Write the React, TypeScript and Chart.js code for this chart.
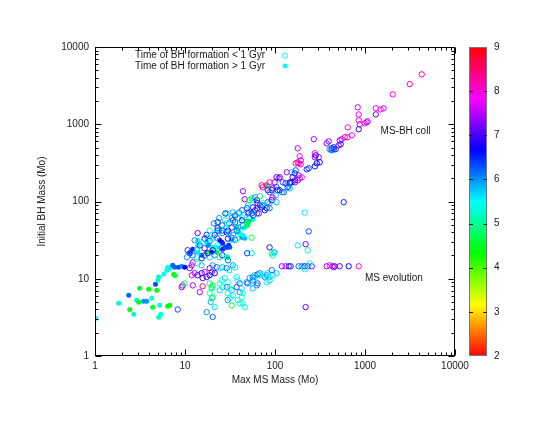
import React, { useEffect, useRef } from 'react';
import { Chart, registerables } from 'chart.js';

Chart.register(...registerables);

// [Max MS Mass, Initial BH Mass, colour value] — BH formed in < 1 Gyr (open circles)
const youngBH: number[][] = [
  [4270,4430,8.3],[3140,3300,8.2],[2030,2440,8.0],[830,1660,7.6],[851,1340,7.9],[851,1125,8.0],
  [873,1000,7.7],[851,860,6.9],[642,910,8.0],[1320,1610,7.9],[1490,1560,7.9],[1610,1610,7.6],
  [1320,1340,7.2],[990,1030,8.1],[1040,1060,7.5],[1070,1090,7.5],[712,719,7.8],[642,680,8.0],
  [595,680,8.2],[551,640,7.5],[523,619,7.4],[537,550,6.8],[449,503,6.6],[426,488,6.5],
  [449,474,6.5],[472,474,6.5],[426,460,6.3],[405,474,6.0],[375,565,7.3],[395,600,7.3],
  [510,534,7.3],[270,640,7.5],[179,488,7.5],[188,385,7.9],[193,341,7.4],[179,322,8.2],
  [170,312,8.3],[183,312,8.0],[193,303,8.2],[277,421,7.9],[277,374,7.3],[284,396,6.8],
  [306,374,7.3],[314,322,6.8],[291,312,6.7],[277,285,6.6],[225,261,6.5],[237,269,6.4],
  [135,239,7.3],[153,239,5.8],[166,231,6.5],[170,253,6.3],[183,218,7.2],[188,200,7.6],
  [198,206,7.8],[179,188,7.4],[166,177,7.2],[153,177,6.7],[146,177,6.7],[142,157,5.8],
  [125,132,6.3],[113,140,6.4],[110,200,7.3],[580,98,6.5],[214,72,5.6],[113,206,7.3],
  [104,206,7.0],[166,188,7.3],[157,206,6.9],[146,172,6.5],[131,172,7.0],[122,177,6.2],
  [99,177,7.3],[87,177,7.9],[81,162,8.2],[73,153,8.0],[71,162,8.3],[104,153,6.4],
  [94,148,6.8],[92,140,7.2],[83,140,6.5],[87,132,6.2],[146,148,5.8],[138,153,6.3],
  [119,132,6.0],[107,140,6.6],[102,120,5.9],[44,136,7.4],[46,107,7.3],[52,104,4.3],
  [55,110,4.6],[57,104,5.5],[60,113,6.0],[63,104,7.0],[64,95,6.6],[68,89,6.5],
  [71,84,6.7],[73,89,6.4],[81,82,6.5],[77,77,6.6],[83,98,6.2],[87,95,5.7],
  [92,104,6.8],[94,113,7.5],[104,98,5.8],[63,82,7.4],[57,84,7.0],[60,77,6.4],
  [49,82,6.3],[50,89,5.8],[55,70,6.5],[51,72,6.6],[43,77,6.2],[39,70,5.5],
  [34,72,5.9],[36,66,6.4],[29,70,5.6],[33,61,6.0],[34,57,6.5],[39,61,5.8],
  [36,54,6.3],[43,57,6.7],[44,49,6.0],[49,52,4.8],[28,57,5.4],[29,52,5.7],
  [26,49,6.2],[24,61,5.9],[23,54,6.5],[21,52,6.1],[23,45,6.6],[24,42,5.7],
  [26,42,6.4],[26,39,6.0],[29,40,6.8],[31,39,5.5],[33,34,6.3],[30,33,6.6],
  [34,37,5.9],[36,32,6.2],[38,33,5.3],[13.8,39,7.1],[18.8,42,5.5],[17.4,37,6.4],
  [17.8,34,5.8],[16.5,33,6.6],[18.8,31,6.2],[20.3,33,5.6],[21.4,37,6.9],[22.5,34,6.1],
  [55,34,4.6],[87,25.5,6.5],[179,27,5.6],[219,28,7.2],[237,41,6.3],[231,23.4,5.2],
  [92,21.4,5.3],[97,22,4.9],[55,21.4,5.6],[68,117,4.8],[73,95,5.4],[87,82,6.1],
  [28,70,6.4],[40,72,6.0],[43,62,5.6],[50,70,6.2],[52,61,5.9],[57,66,6.3],
  [63,70,6.0],[66,70,7.2],[38,52,5.5],[39,46,6.0],[31,52,5.8],[33,46,6.5],
  [30,42,6.7],[28,45,5.4],[38,42,6.2],[23,42,6.3],[19.8,37,5.5],[49,21.4,6.4],
  [99,22,5.8],[94,20,5.2],
  [11.3,21.4,7.0],[12.2,20.1,6.2],[10.5,19,6.0],[13.5,19,5.5],[15.3,18.4,6.5],[16.5,20.1,6.3],
  [18.8,19,5.7],[21.4,20.1,6.0],[24.3,19,4.8],[26,20.1,6.5],[29,19,5.5],[30,17.3,6.2],
  [12.2,16.3,7.4],[11.9,14.9,7.6],[11.3,13.7,7.2],[13.8,15.8,5.5],[15.3,14.9,5.8],[12.8,11.8,7.3],
  [11.9,11.1,7.7],[13.8,11.1,7.0],[15.3,11.8,6.8],[16.5,12.2,7.5],[17.4,10.5,7.2],[18.8,11.1,6.6],
  [15.7,10.2,7.0],[20.3,14.9,5.9],[22.5,14.1,6.3],[24.3,13.7,5.5],[26,14.1,5.8],[29,13.7,6.2],
  [31,12.9,5.6],[34,14.9,6.0],[36,14.1,5.3],[18.8,13.7,7.4],[19.8,12.2,7.1],[21.4,11.8,6.8],
  [9.4,8.2,7.6],[9.2,7.8,7.3],[9.9,8.7,4.6],[12.2,8.2,7.5],[15.7,8.0,8.3],[14.6,6.7,7.4],
  [18.8,8.7,4.8],[19.8,7.8,5.2],[20.3,8.2,4.6],[19.8,7.5,4.7],[18.8,6.5,5.3],[19.8,5.6,4.6],
  [20.3,5.75,4.9],[19.3,5.0,5.8],[24.3,8.7,5.5],[25.6,9.5,5.2],[27.6,10.2,5.6],[26.2,7.8,5.4],
  [24.3,7.1,5.7],[29.8,9.0,5.4],[29.1,7.8,6.0],[31.4,7.5,5.5],[33,7.1,5.8],[29.8,6.5,5.3],
  [33.9,6.1,5.6],[31.4,5.6,5.4],[29.8,5.3,5.9],[37.5,10.5,5.6],[38.5,9.5,5.4],[40.5,8.7,6.2],
  [37.5,7.8,6.3],[42.6,7.5,5.7],[40.5,6.7,6.0],[43.7,6.5,5.5],[42.6,5.75,5.2],[38.5,5.3,5.4],
  [40.5,4.8,5.3],[48.5,9.0,6.0],[49.7,8.7,6.3],[52.3,10.2,6.0],[56.5,10.5,6.2],[59.5,11.1,5.8],
  [64,11.4,6.3],[67.6,11.8,6.1],[73,11.4,5.5],[81,11.1,6.0],[83,11.8,5.4],[87,10.5,5.6],
  [94,11.1,5.3],[104,11.8,5.7],[55,8.7,5.6],[63,8.2,6.0],[64,8.7,6.3],[56.5,7.5,5.8],
  [81,9.0,5.4],[87,9.5,5.8],[33,4.5,4.6],[43.7,4.8,5.3],[46,4.3,5.4],[17.4,3.7,6.0],
  [21.4,4.3,5.6],[20.3,3.2,6.2],[8.3,4.0,6.3],[77,10.5,6.0],[67.6,11.1,5.4],[59.5,10.5,5.7],
  [56.5,9.5,6.1],[92,12.9,6.2],[83,10.5,5.5],
  [119,14.5,7.4],[131,14.5,7.6],[142,14.5,7.0],[149,14.5,6.5],[183,14.5,6.2],[198,14.5,6.0],
  [214,14.5,6.5],[231,14.5,6.3],[256,14.5,7.3],[214,13.3,5.5],[243,15.8,5.3],[375,14.5,7.3],
  [405,14.9,7.8],[437,14.5,7.5],[449,14.1,7.6],[460,14.5,7.2],[523,14.5,7.0],[659,14.5,6.7],
  [851,14.5,7.9],[219,4.3,7.2],
  [14.6,27,6.5],[13.5,23.4,5.8],[16.5,24.8,7.0],[12.8,31.5,6.0],[10.7,23.4,6.4],[15.7,28.8,5.6],
  [20.3,23.4,6.7],[23,27,5.5],[25.6,24.8,6.2],[17.8,21.4,6.9],
];

// [Max MS Mass, Initial BH Mass, colour value] — BH formed in > 1 Gyr (filled circles)
const oldBH: number[][] = [
  [1.02,3.08,5.4],[1.83,4.81,5.3],[2.37,6.11,6.2],[2.43,4.0,4.4],[2.69,3.46,5.3],[2.90,5.26,5.3],
  [3.14,7.53,4.5],[3.06,4.96,4.5],[3.47,5.11,6.0],[3.75,5.11,6.0],[3.95,7.3,4.4],[4.38,4.27,4.5],
  [4.27,5.59,5.4],[4.7,8.5,6.3],[4.85,7.08,4.4],[4.98,9.55,5.3],[5.1,10.5,5.3],[5.23,4.53,5.4],
  [5.1,3.17,5.2],[5.37,3.46,5.3],[5.8,11.4,5.5],[6.26,12.9,5.4],[6.42,4.4,4.4],[6.76,4.53,4.4],
  [6.42,14.1,5.5],[6.76,13.7,5.2],[7.49,11.4,4.4],[7.7,11.0,4.5],[7.68,14.1,6.2],[8.5,14.1,6.3],
  [9.2,14.5,6.0],[9.94,14.1,6.7],[7.3,14.9,6.2],[11.3,21.4,6.3],[12.2,24.1,6.5],[13.8,22,5.3],
  [15.3,20.1,6.2],[17.4,29.6,5.4],[18.3,27.1,6.0],[20.3,25.5,5.3],[22.5,22,4.6],[26.2,24.1,6.6],
  [29.1,25.5,6.7],[30.6,27.1,6.5],[33,31.5,5.6],[37.5,46.4,4.6],[38.5,39.9,5.3],[44.9,45,5.5],
  [51,55.4,4.5],[56.5,58.8,5.3],[46,46.4,5.4],[49.7,49.2,4.6],[24.3,31.5,6.8],[25.6,29.6,6.7],
  [26.2,28.8,6.5],[31.4,25.5,6.3],[40.5,38.7,5.5],[42.6,34.4,6.1],[46,33.4,5.8],[43.7,36.5,5.3],
  [48.5,55.4,4.6],[80,160,4.3],[13.8,31.5,5.4],[13.8,27,5.4],[17.4,22,4.5],[19.8,22,6.5],
  [22.5,25.5,5.5],[28,25.5,6.4],[29.8,19,4.6],
];

const xTickValues = [1, 10, 100, 1000, 10000];
const yTickValues = [1, 10, 100, 1000, 10000];
const colorbarTicks = [2, 3, 4, 5, 6, 7, 8, 9];
const colorMin = 2;
const colorMax = 9;
const legendLabels = ['Time of BH formation < 1 Gyr', 'Time of BH formation > 1 Gyr'];
const legendColorValue = 5.5;
const xTitle = 'Max MS Mass (Mo)';
const yTitle = 'Initial BH Mass (Mo)';
const regionLabels: { text: string; x: number; y: number }[] = [
  { text: 'MS-BH coll', x: 1490, y: 810 },
  { text: 'MS evolution', x: 1000, y: 10.1 },
];

const FONT = '"Liberation Sans", Arial, Helvetica, sans-serif';
const TEXT = '#1a1a1a';

const zHue = (z: number) => ((z - colorMin) / (colorMax - colorMin)) * 360;
const zColor = (z: number) => `hsl(${zHue(z).toFixed(1)}, 100%, 50%)`;

const decorPlugin = {
  id: 'decor',
  afterDraw(chart: any) {
    const { ctx, chartArea: a, scales } = chart;
    const xs = scales.x;
    const ys = scales.y;
    ctx.save();
    // plot border
    ctx.strokeStyle = '#000';
    ctx.lineWidth = 1;
    const L = Math.round(a.left) + 0.5;
    const R = Math.round(a.right) - 0.5;
    const T = Math.round(a.top) + 0.5;
    const B = Math.round(a.bottom) - 0.5;
    ctx.strokeRect(L, T, R - L, B - T);
    // inward ticks, mirrored
    ctx.beginPath();
    for (let d = 0; d <= 4; d++) {
      for (let k = 1; k <= 9; k++) {
        if (d === 4 && k > 1) break;
        const v = k * Math.pow(10, d);
        const len = k === 1 ? 6 : 3;
        const px = Math.round(xs.getPixelForValue(v)) + 0.5;
        ctx.moveTo(px, B); ctx.lineTo(px, B - len);
        ctx.moveTo(px, T); ctx.lineTo(px, T + len);
        const py = Math.round(ys.getPixelForValue(v)) + 0.5;
        ctx.moveTo(L, py); ctx.lineTo(L + len, py);
        ctx.moveTo(R, py); ctx.lineTo(R - len, py);
      }
    }
    ctx.stroke();

    // colour bar
    const cbL = 469;
    const cbR = 487;
    const cbT = a.top;
    const cbB = a.bottom;
    const grad = ctx.createLinearGradient(0, cbB, 0, cbT);
    for (let i = 0; i <= 36; i++) {
      grad.addColorStop(i / 36, `hsl(${i * 10}, 100%, 50%)`);
    }
    ctx.fillStyle = grad;
    ctx.fillRect(cbL, cbT, cbR - cbL, cbB - cbT);
    ctx.strokeStyle = '#777';
    ctx.strokeRect(cbL + 0.5, Math.round(cbT) + 0.5, cbR - cbL - 1, Math.round(cbB - cbT) - 1);
    ctx.strokeStyle = '#222';
    ctx.fillStyle = TEXT;
    ctx.font = `10px ${FONT}`;
    ctx.textAlign = 'left';
    ctx.textBaseline = 'middle';
    ctx.beginPath();
    for (const t of colorbarTicks) {
      const y = cbB - ((t - colorMin) / (colorMax - colorMin)) * (cbB - cbT);
      const yy = Math.round(y) + 0.5;
      if (t > colorMin && t < colorMax) {
        ctx.moveTo(cbL, yy); ctx.lineTo(cbL + 4, yy);
        ctx.moveTo(cbR, yy); ctx.lineTo(cbR - 4, yy);
      }
      ctx.fillText(String(t), 494, y);
    }
    ctx.stroke();

    // axis titles
    ctx.fillStyle = TEXT;
    ctx.textAlign = 'center';
    ctx.textBaseline = 'middle';
    ctx.fillText(xTitle, (a.left + a.right) / 2, 380);
    ctx.save();
    ctx.translate(42, (a.top + a.bottom) / 2);
    ctx.rotate(-Math.PI / 2);
    ctx.fillText(yTitle, 0, 0);
    ctx.restore();

    // legend
    ctx.textAlign = 'right';
    legendLabels.forEach((label, i) => {
      const y = 55.5 + i * 10.5;
      ctx.fillStyle = TEXT;
      ctx.fillText(label, 265, y);
      ctx.beginPath();
      ctx.arc(285, y, i === 0 ? 2.6 : 2.4, 0, Math.PI * 2);
      if (i === 0) {
        ctx.strokeStyle = zColor(legendColorValue);
        ctx.lineWidth = 1;
        ctx.stroke();
      } else {
        ctx.fillStyle = zColor(legendColorValue);
        ctx.fill();
      }
    });

    // region labels
    ctx.fillStyle = TEXT;
    ctx.textAlign = 'left';
    for (const r of regionLabels) {
      ctx.fillText(r.text, xs.getPixelForValue(r.x), ys.getPixelForValue(r.y));
    }
    ctx.restore();
  },
};

export default function App() {
  const ref = useRef<HTMLCanvasElement>(null);
  useEffect(() => {
    const chart = new Chart(ref.current as HTMLCanvasElement, {
      type: 'scatter',
      data: {
        datasets: [
          {
            label: legendLabels[0],
            data: youngBH.map(([x, y]) => ({ x, y })),
            pointRadius: 2.7,
            pointBorderWidth: 1,
            pointBackgroundColor: 'rgba(0,0,0,0)',
            pointBorderColor: youngBH.map((p) => zColor(p[2])),
          },
          {
            label: legendLabels[1],
            data: oldBH.map(([x, y]) => ({ x, y })),
            pointRadius: 2.5,
            pointBorderWidth: 0,
            pointBackgroundColor: oldBH.map((p) => zColor(p[2])),
            pointBorderColor: oldBH.map((p) => zColor(p[2])),
          },
        ],
      },
      options: {
        responsive: false,
        animation: false,
        devicePixelRatio: 1,
        layout: { padding: { left: 0, right: 99, top: 47, bottom: 0 } },
        plugins: { legend: { display: false }, tooltip: { enabled: false } },
        scales: {
          x: {
            type: 'logarithmic',
            position: 'bottom',
            min: 1,
            max: 10000,
            grid: { display: false, drawTicks: false },
            border: { display: false },
            ticks: {
              autoSkip: false,
              maxRotation: 0,
              padding: 4,
              color: TEXT,
              font: { family: FONT, size: 10 },
              callback: (v: any) => String(v),
            },
            afterBuildTicks: (s: any) => {
              s.ticks = xTickValues.map((value) => ({ value }));
            },
            afterFit: (s: any) => {
              s.height = 72;
            },
          },
          y: {
            type: 'logarithmic',
            position: 'left',
            min: 1,
            max: 10000,
            grid: { display: false, drawTicks: false },
            border: { display: false },
            ticks: {
              autoSkip: false,
              padding: 6,
              color: TEXT,
              font: { family: FONT, size: 10 },
              callback: (v: any) => String(v),
            },
            afterBuildTicks: (s: any) => {
              s.ticks = yTickValues.map((value) => ({ value }));
            },
            afterFit: (s: any) => {
              s.width = 95;
            },
          },
        },
      },
      plugins: [decorPlugin],
    } as any);
    return () => chart.destroy();
  }, []);
  return (
    <div style={{ position: 'fixed', left: 0, top: 0, width: 554, height: 428, background: '#fff' }}>
      <canvas ref={ref} width={554} height={428} style={{ display: 'block' }} />
    </div>
  );
}
